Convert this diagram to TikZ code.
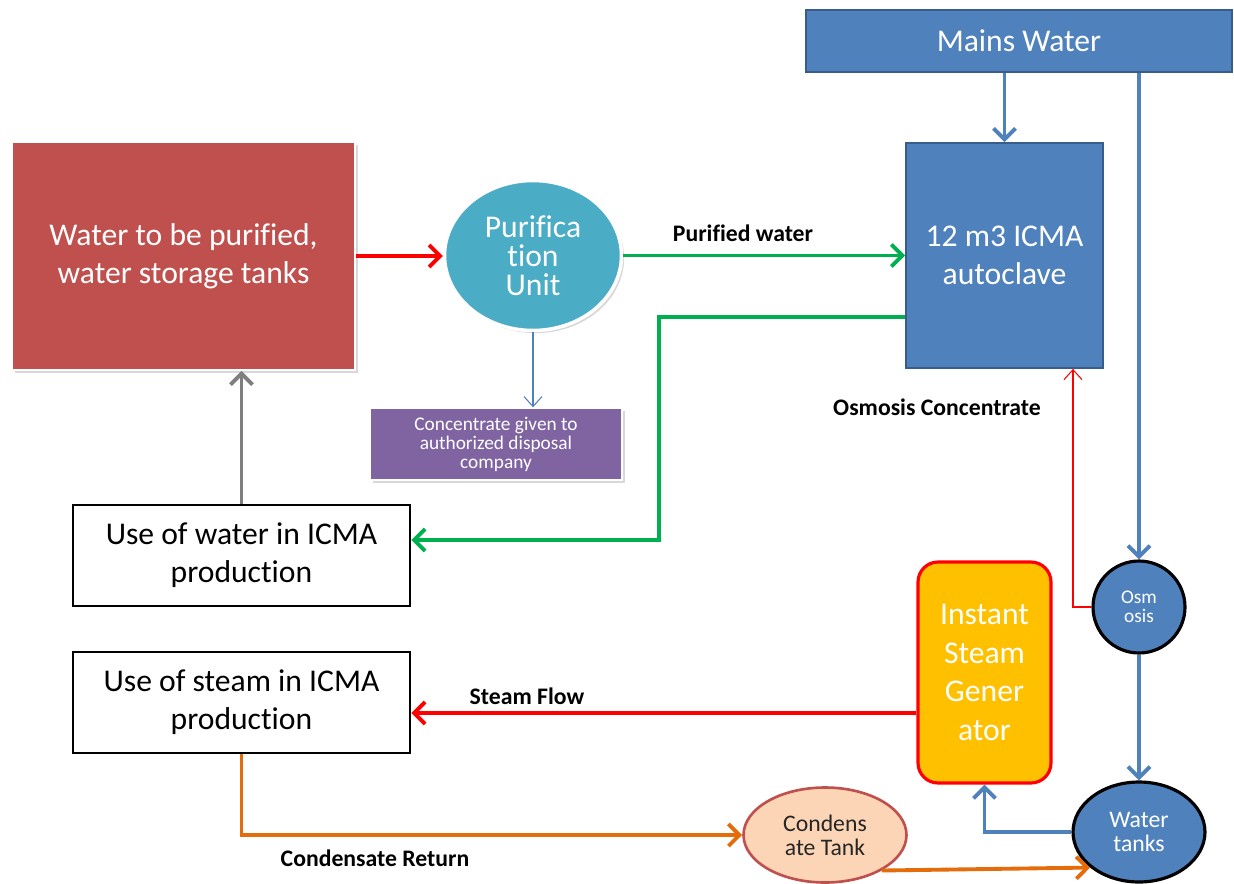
\documentclass[tikz,border=0pt]{standalone}
\usepackage{fontspec}
\setmainfont[Ligatures=NoCommon]{Carlito}
\usepackage{tikz}
\usetikzlibrary{positioning,arrows.meta,shapes.geometric,shadows}
\definecolor{ofblue}{HTML}{4F81BD}
\definecolor{ofbluedk}{HTML}{385D8A}
\definecolor{ofred}{HTML}{C0504D}
\definecolor{ofcyan}{HTML}{4BACC6}
\definecolor{ofpurple}{HTML}{8064A2}
\definecolor{ofgold}{HTML}{FFC000}
\definecolor{ofpeach}{HTML}{FBD5B5}
\definecolor{ofgreen}{HTML}{00B050}
\definecolor{oforange}{HTML}{E46C0A}
\definecolor{ofgray}{HTML}{7F7F7F}
\tikzset{
  flow/.style={-{Straight Barb[length=2.2mm,width=4.4mm]},line width=2.2pt},
  thinflow/.style={-{Straight Barb[length=2mm,width=3.6mm]},line width=0.6pt},
  bigtxt/.style={font=\fontsize{18}{21.5}\selectfont,align=center},
  lbl/.style={font=\fontsize{13.5}{15}\selectfont\bfseries},
  shd/.style={drop shadow={shadow xshift=1.5pt,shadow yshift=-1.5pt,opacity=0.3}},
  bluebox/.style={rectangle,draw=ofbluedk,fill=ofblue,line width=1pt,text=white,inner sep=0pt},
  usebox/.style={rectangle,draw=black,fill=white,line width=1.6pt,minimum width=6.74cm,
    minimum height=2.02cm,inner sep=0pt,bigtxt},
  tankell/.style={ellipse,draw=black,fill=ofblue,line width=1.8pt,text=white,inner sep=0pt},
}
\begin{document}
\begin{tikzpicture}[x=0.02cm,y=-0.02cm]
  \fill[white] (0,0) rectangle (1234,883);
  \useasboundingbox (0,0) rectangle (1234,883);
  % boxes and tanks
  \node[bluebox,minimum width=8.52cm,minimum height=1.24cm,bigtxt] (mains) at (1019,41) {Mains Water};
  \node[bluebox,minimum width=3.94cm,minimum height=4.5cm,bigtxt,text depth=0pt] (auto) at (1004.5,255.5)
    {12 m3 ICMA\\autoclave};
  \node[rectangle,fill=ofred,draw=white,line width=1pt,shd,minimum width=6.86cm,minimum height=4.56cm,
    inner sep=0pt,text=white,bigtxt] (store) at (183.5,256) {Water to be purified,\\water storage tanks};
  \node[ellipse,fill=ofcyan,draw=white,line width=2pt,shd,minimum width=3.54cm,minimum height=3cm,
    inner sep=0pt,text=white,align=center,font=\fontsize{18}{16.5}\selectfont] (puri) at (533,255.5)
    {Purifica\\tion\\Unit};
  \node[rectangle,fill=ofpurple,draw=white,line width=0.8pt,shd,minimum width=5.04cm,minimum height=1.44cm,
    inner sep=0pt,text=white,align=center,font=\fontsize{11}{10.8}\selectfont] (conc) at (496,444)
    {Concentrate given to\\authorized disposal\\company};
  \node[usebox] (usewater) at (241.5,555.5) {Use of water in ICMA\\production};
  \node[usebox] (usesteam) at (241.5,702.5) {Use of steam in ICMA\\production};
  \node[rectangle,rounded corners=0.4cm,fill=ofgold,draw=red,line width=1.8pt,minimum width=2.66cm,
    minimum height=4.42cm,inner sep=0pt,text=white,align=center,font=\fontsize{18}{22}\selectfont]
    (steamgen) at (984.5,672.5) {Instant\\Steam\\Gener\\ator};
  \node[tankell,minimum width=1.84cm,minimum height=1.84cm,align=center,
    font=\fontsize{11}{11}\selectfont] (osmo) at (1139,607) {Osm\\osis};
  \node[tankell,minimum width=2.64cm,minimum height=2cm,align=center,
    font=\fontsize{13.5}{13.6}\selectfont] (wtank) at (1139,832) {Water\\tanks};
  \node[ellipse,fill=ofpeach,draw=ofred,line width=1.5pt,minimum width=3.26cm,minimum height=1.9cm,
    inner sep=0pt,text=black!85,align=center,font=\fontsize{13.5}{13.6}\selectfont] (ctank) at (825,835)
    {Condens\\ate Tank};
  % labels
  \node[lbl] (lpure) at (743,233) {Purified water};
  \node[lbl] (losmo) at (937,407) {Osmosis Concentrate};
  \node[lbl] (lsteam) at (527,696) {Steam Flow};
  \node[lbl] (lcond) at (375,858) {Condensate Return};
  % connectors
  \coordinate (gbend) at (659,540);
  \draw[flow,ofblue] (auto.north |- mains.south) -- (auto.north);
  \draw[flow,ofblue] (osmo.north |- mains.south) -- (osmo.north);
  \draw[flow,red] (store.east) -- (store.east -| puri.west);
  \draw[flow,ofgreen] (puri.east) -- (auto.west |- puri.east);
  \draw[thinflow,ofblue] (puri.south) -- (puri.south |- conc.north);
  \draw[flow,ofgreen] ([yshift=-1.23cm]auto.west) -| (gbend) -- (usewater.east |- gbend);
  \draw[flow,ofgray] (usewater.north) -- (usewater.north |- store.south);
  \draw[thinflow,red] (osmo.west) -| ([xshift=1.37cm]auto.south);
  \draw[flow,ofblue] (osmo.south) -- (wtank.north);
  \draw[flow,ofblue] (wtank.west) -| (steamgen.south);
  \draw[flow,red] ([yshift=-0.81cm]steamgen.west) coordinate (sgout) -- (usesteam.east |- sgout);
  \draw[flow,oforange] (usesteam.south) |- (ctank.west);
  \draw[flow,oforange] (ctank.-32) -- (wtank.-144);
\end{tikzpicture}
\end{document}
